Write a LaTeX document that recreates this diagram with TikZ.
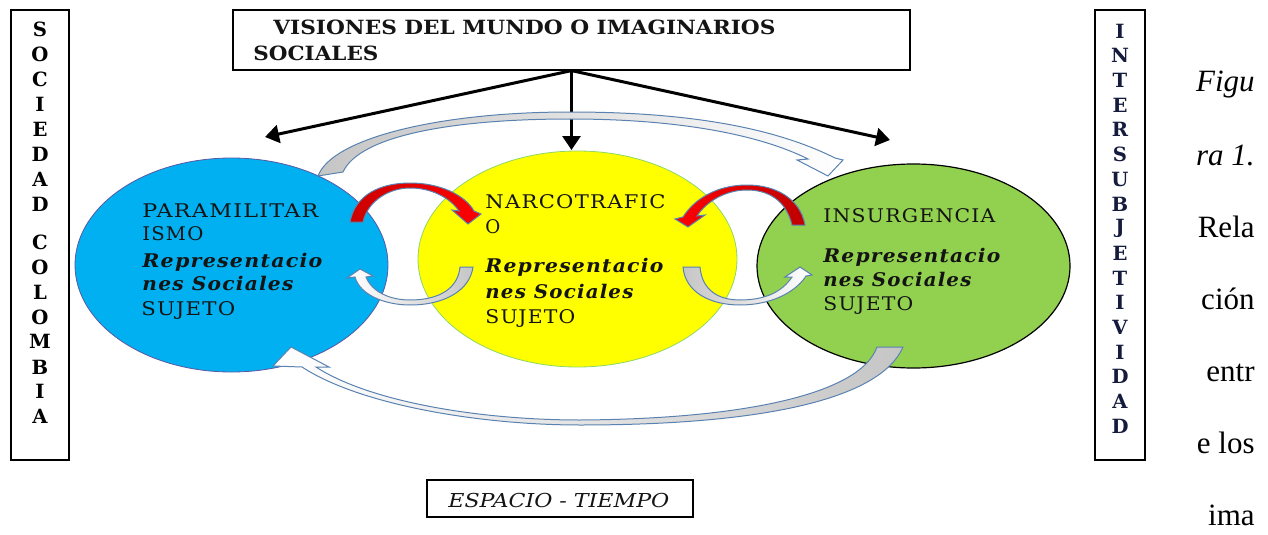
\documentclass[tikz,border=0pt]{standalone}
\usepackage{fontspec}
\usepackage{graphicx}
\setmainfont{DejaVu Serif}
\newfontfamily\capfont{Liberation Serif}
\newfontfamily\bodyfont[LetterSpace=6]{DejaVu Serif}
\usetikzlibrary{shapes.geometric,arrows.meta}
\newcommand\fitw[2]{\resizebox{#1}{\height}{#2}}
\definecolor{cblue}{HTML}{00B0F0}
\definecolor{cyellow}{HTML}{FFFF00}
\definecolor{cgreen}{HTML}{92D050}
\definecolor{arrowblue}{HTML}{5A82B0}
\definecolor{navyt}{HTML}{141B3C}
\definecolor{textdark}{HTML}{141414}
\begin{document}
\begin{tikzpicture}[x=0.5pt,y=-0.5pt,
  body/.style={anchor=base west, inner sep=0pt, text=textdark, font=\bodyfont\fontsize{9.4}{11}\selectfont},
  vletter/.style={anchor=center, inner sep=0pt, font=\bfseries\fontsize{9.8}{11}\selectfont},
  capline/.style={anchor=base east, inner sep=0pt, font=\capfont\fontsize{15.5}{18}\selectfont},
  blackarrow/.style={line width=1.5pt, -{Triangle[length=7pt,width=9pt]}},
  loopshade/.style={draw=arrowblue, line width=0.5pt},
  framebox/.style={draw, line width=0.6pt, inner sep=0pt, rectangle}
]
\useasboundingbox (0,0) rectangle (1268,535);

% side boxes
\node[framebox, minimum width=29pt, minimum height=225pt] (soc) at (40,235) {};
\node[framebox, minimum width=25pt, minimum height=225pt] (inter) at (1120,235) {};

% left letters
\foreach \l/\y [count=\i] in {S/29,O/54,C/79,I/104,E/129,D/154,A/179,D/204,C/242,O/267,L/292,O/317,M/341,B/367,I/391,A/416}
  \node[vletter] (sl\i) at (40,\y) {\l};
% right letters
\foreach \l [count=\i] in {I,N,T,E,R,S,U,B,J,E,T,I,V,I,D,A,D}
  \node[vletter, text=navyt] (il\i) at (1120,{31+(\i-1)*24.7}) {\l};

% top box
\node[framebox, minimum width=338.5pt, minimum height=30pt] (vis) at (571.5,40) {};
\node[anchor=base west, inner sep=0pt, text=textdark, font=\bfseries\fontsize{9.8}{11}\selectfont] (vis1) at (273,35) {\fitw{251pt}{VISIONES DEL MUNDO O IMAGINARIOS}};
\node[anchor=base west, inner sep=0pt, text=textdark, font=\bfseries\fontsize{9.8}{11}\selectfont] (vis2) at (253,61) {\fitw{62.5pt}{SOCIALES}};

% ellipses
\node[ellipse, fill=cblue, draw=gray!70!blue, line width=0.4pt, inner sep=0pt, minimum width=156.5pt, minimum height=107pt] (para) at (231.5,265) {};
\node[ellipse, fill=cyellow, draw=green!45!olive!60, line width=0.4pt, inner sep=0pt, minimum width=159.5pt, minimum height=108pt] (narco) at (577.5,259) {};
\node[ellipse, fill=cgreen, draw=black, line width=0.6pt, inner sep=0pt, minimum width=156.5pt, minimum height=102pt] (insur) at (913.5,266) {};

% black arrows
\coordinate (tipL) at (265,137);
\coordinate (tipC) at (571.5,150);
\coordinate (tipR) at (890,140);
\draw[blackarrow] (vis.south) -- (tipL);
\draw[blackarrow] (vis.south) -- (tipC);
\draw[blackarrow] (vis.south) -- (tipR);

% big top curved arrow
\shadedraw[loopshade, left color=gray!45, middle color=gray!10, right color=white]
  (318,176) .. controls (332,138) and (440,112) .. (570,112)
  .. controls (690,112) and (775,128) .. (835,158)
  -- (843,160) -- (828,176) -- (797,160) -- (808,159)
  .. controls (760,135) and (680,119) .. (570,119)
  .. controls (455,119) and (360,135) .. (343,172) -- cycle;

% big bottom curved arrow
\shadedraw[loopshade, left color=white, middle color=gray!10, right color=gray!45]
  (302,367) .. controls (360,405) and (480,425) .. (580,425)
  .. controls (760,425) and (880,400) .. (903,347)
  -- (877,347) .. controls (860,395) and (740,419) .. (580,420)
  .. controls (480,420) and (370,402) .. (316,367)
  -- (329,367) -- (291,347) -- (273,366) -- cycle;

% red arrow blue -> yellow
\shadedraw[loopshade, left color=red!80!black, right color=red]
  (350,222) .. controls (355,195) and (380,183) .. (410,183)
  .. controls (440,183) and (465,195) .. (474,211)
  -- (481,214) -- (468,224) -- (452,210) -- (459,211)
  .. controls (450,198) and (432,188) .. (410,188)
  .. controls (390,188) and (368,200) .. (363,222) -- cycle;

% red arrow green -> yellow
\shadedraw[loopshade, left color=red, right color=red!75!black]
  (805,225) .. controls (800,198) and (775,185) .. (747,185)
  .. controls (718,185) and (695,198) .. (683,217)
  -- (675,219) -- (688,227) -- (705,215) -- (697,216)
  .. controls (706,202) and (725,190) .. (747,190)
  .. controls (768,190) and (786,200) .. (792,225) -- cycle;

% lower loop yellow -> blue
\shadedraw[loopshade, left color=white, right color=gray!45]
  (473,267) .. controls (470,290) and (445,305) .. (410,305)
  .. controls (385,305) and (360,295) .. (355,277)
  -- (347,278) -- (360,269) -- (373,276) -- (366,277)
  .. controls (372,292) and (390,300) .. (410,300)
  .. controls (440,300) and (458,288) .. (460,267) -- cycle;

% lower loop yellow -> green
\shadedraw[loopshade, left color=gray!45, right color=white]
  (683,267) .. controls (685,292) and (710,305) .. (740,305)
  .. controls (770,305) and (795,293) .. (806,276)
  -- (812,275) -- (800,267) -- (785,277) -- (792,277)
  .. controls (782,292) and (765,300) .. (740,300)
  .. controls (718,300) and (702,290) .. (700,267) -- cycle;

% blue text
\node[body] (p1) at (142,217) {\fitw{88pt}{PARAMILITAR}};
\node[body] (p2) at (142,240) {\fitw{30.5pt}{ISMO}};
\node[body] (p3) at (142,267) {\fitw{90pt}{\bfseries\itshape Representacio}};
\node[body] (p4) at (142,290) {\fitw{75.5pt}{\bfseries\itshape nes Sociales}};
\node[body] (p5) at (141,315) {\fitw{47pt}{SUJETO}};
% yellow text
\node[body] (n1) at (485,208) {\fitw{90pt}{NARCOTRAFIC}};
\node[body] (n2) at (485,233) {\fitw{7.5pt}{O}};
\node[body] (n3) at (485,272) {\fitw{89pt}{\bfseries\itshape Representacio}};
\node[body] (n4) at (485,298) {\fitw{74pt}{\bfseries\itshape nes Sociales}};
\node[body] (n5) at (485,323) {\fitw{45pt}{SUJETO}};
% green text
\node[body] (g1) at (823,222) {\fitw{86pt}{INSURGENCIA}};
\node[body] (g2) at (823,262) {\fitw{88.5pt}{\bfseries\itshape Representacio}};
\node[body] (g3) at (823,286) {\fitw{74pt}{\bfseries\itshape nes Sociales}};
\node[body] (g4) at (823,310) {\fitw{45pt}{SUJETO}};

% espacio tiempo
\node[framebox, minimum width=133pt, minimum height=18.5pt] (esp) at (560,498.5) {};
\node[anchor=base west, inner sep=0pt, text=textdark, font=\itshape\fontsize{9.6}{11}\selectfont] (espt) at (448,507) {\fitw{110.5pt}{ESPACIO - TIEMPO}};

% caption column
\node[capline, font=\capfont\itshape\fontsize{15.5}{18}\selectfont] (c1) at (1255,92) {Figu};
\node[capline, font=\capfont\itshape\fontsize{15.5}{18}\selectfont] (c2) at (1255,165) {ra 1.};
\node[capline] (c3) at (1255,237) {Rela};
\node[capline] (c4) at (1255,309) {ción};
\node[capline] (c5) at (1255,381) {entr};
\node[capline] (c6) at (1255,453) {e los};
\node[capline] (c7) at (1255,525) {ima};
\end{tikzpicture}
\end{document}
